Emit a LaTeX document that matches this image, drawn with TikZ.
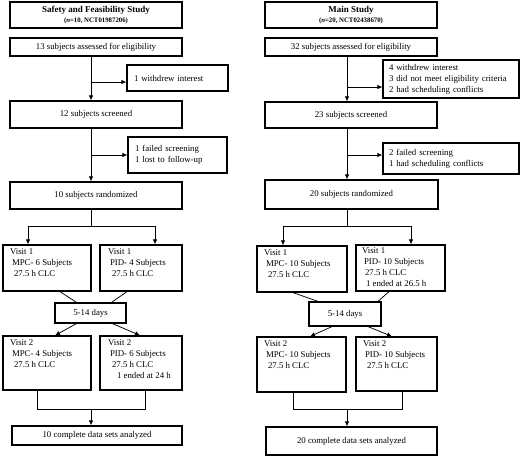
\documentclass[tikz,border=0pt]{standalone}
\usepackage{fontspec}
\setmainfont{Liberation Serif}
\usetikzlibrary{arrows.meta}

\begin{document}
\begin{tikzpicture}[x=1pt, y=-1pt,
        every node/.style={font=\fontsize{8.8}{11}\selectfont},
        box/.style={draw, line width=1.2pt, inner sep=0pt},
        sidebox/.style={box, align=left, inner xsep=7pt},
        link/.style={line width=0.75pt},
        arr/.style={link, -{Latex[length=5pt,width=4.5pt]}}]
        \useasboundingbox (0,0) rectangle (520,456);

        % === 左側: Safety and Feasibility Study ===
        \node[box, minimum width=172, minimum height=26, align=center] (Ltitle) at (96,15)
            {{\fontsize{9}{10}\selectfont\bfseries Safety and Feasibility Study}\\[-1pt]
             {\fontsize{6.8}{7}\selectfont\bfseries (\textit{n}=10, NCT01987206)}};
        \node[box, minimum width=172, minimum height=18] (Lassess) at (96,47) {13 subjects assessed for eligibility};
        \node[sidebox, text width=87, minimum height=26] (Lwd) at (177.5,78) {1 withdrew interest};
        \node[box, minimum width=172, minimum height=27] (Lscreen) at (96,114.5) {12 subjects screened};
        \node[sidebox, text width=85, minimum height=36] (Lfail) at (177.5,155) {1 failed screening\\1 lost to follow-up};
        \node[box, minimum width=172, minimum height=27] (Lrand) at (96,195.5) {10 subjects randomized};

        % Visit 1 / 2
        \node[box, minimum width=88, minimum height=46] (LV1a) at (47,268)
            {\parbox[c][39pt][t]{74pt}{Visit 1\\\hspace*{2pt}MPC- 6 Subjects\\\hspace*{4pt}27.5 h CLC}};
        \node[box, minimum width=82, minimum height=46] (LV1b) at (141,268)
            {\parbox[c][39pt][t]{66pt}{Visit 1\\\hspace*{2pt}PID- 4 Subjects\\\hspace*{4pt}27.5 h CLC}};
        \node[box, minimum width=71, minimum height=20] (Ldays) at (90.5,313) {5-14 days};
        \node[box, minimum width=88, minimum height=54] (LV2a) at (47,363)
            {\parbox[c][47pt][t]{74pt}{Visit 2\\\hspace*{2pt}MPC- 4 Subjects\\\hspace*{4pt}27.5 h CLC}};
        \node[box, minimum width=82, minimum height=54] (LV2b) at (141,363)
            {\parbox[c][47pt][t]{66pt}{Visit 2\\\hspace*{2pt}PID- 6 Subjects\\\hspace*{4pt}27.5 h CLC\\\hspace*{9pt}1 ended at 24 h}};
        \node[box, minimum width=170, minimum height=19] (Ldone) at (97,435.5) {10 complete data sets analyzed};

        % 左側の矢印
        \coordinate (Lax) at (91,0);
        \coordinate (Lbr1) at (91,82);
        \coordinate (Lbr2) at (91,155);
        \coordinate (LspA) at (28,226);
        \coordinate (LspB) at (155,226);
        \coordinate (LmA) at (37,409);
        \coordinate (LmB) at (145,409);
        \draw[arr] (Lassess.south -| Lax) -- (Lscreen.north -| Lax);
        \draw[arr] (Lbr1) -- (Lbr1 -| Lwd.west);
        \draw[arr] (Lscreen.south -| Lax) -- (Lrand.north -| Lax);
        \draw[arr] (Lbr2) -- (Lbr2 -| Lfail.west);
        \draw[link] (Lrand.south -| Lax) -- (Lax |- LspA);
        \draw[link] (LspA) -- (LspB);
        \draw[arr] (LspA) -- (LspA |- LV1a.north);
        \draw[arr] (LspB) -- (LspB |- LV1b.north);
        \draw[link] ([xshift=13pt]LV1a.south) -- ([xshift=-14pt]Ldays.north);
        \draw[link] ([xshift=-14pt]LV1b.south) -- ([xshift=21pt]Ldays.north);
        \draw[arr] ([xshift=-14pt]Ldays.south) -- ([xshift=8pt]LV2a.north);
        \draw[arr] ([xshift=22pt]Ldays.south) -- ([xshift=-1pt]LV2b.north);
        \draw[link] (LV2a.south -| LmA) -- (LmA) -- (LmB) -- (LV2b.south -| LmB);
        \draw[arr] (Lax |- LmA) -- (Lax |- Ldone.north);

        % === 右側: Main Study ===
        \node[box, minimum width=172, minimum height=26, align=center] (Rtitle) at (351,15)
            {{\fontsize{9}{10}\selectfont\bfseries Main Study}\\[-1pt]
             {\fontsize{6.8}{7}\selectfont\bfseries (\textit{n}=20, NCT02438670)}};
        \node[box, minimum width=172, minimum height=18] (Rassess) at (351,47) {32 subjects assessed for eligibility};
        \node[sidebox, inner xsep=6pt, text width=124, minimum height=38] (Rwd) at (451,79)
            {4 withdrew interest\\3 did not meet eligibility criteria\\2 had scheduling conflicts};
        \node[box, minimum width=172, minimum height=26] (Rscreen) at (351,115) {23 subjects screened};
        \node[sidebox, inner xsep=6pt, text width=124, minimum height=31] (Rfail) at (451,158.5)
            {2 failed screening\\1 had scheduling conflicts};
        \node[box, minimum width=173, minimum height=29] (Rrand) at (351.5,194.5) {20 subjects randomized};

        % Visit 1 / 2
        \node[box, minimum width=90, minimum height=46] (RV1a) at (302,269)
            {\parbox[c][39pt][t]{76pt}{Visit 1\\\hspace*{2pt}MPC- 10 Subjects\\\hspace*{4pt}27.5 h CLC}};
        \node[box, minimum width=89, minimum height=46] (RV1b) at (400.5,268)
            {\parbox[c][40pt][t]{77pt}{Visit 1\\\hspace*{2pt}PID- 10 Subjects\\\hspace*{3pt}27.5 h CLC\\\hspace*{4pt}1 ended at 26.5 h}};
        \node[box, minimum width=72, minimum height=24] (Rdays) at (345,314) {5-14 days};
        \node[box, minimum width=89, minimum height=55] (RV2a) at (301.5,364.5)
            {\parbox[c][48pt][t]{75pt}{Visit 2\\\hspace*{2pt}MPC- 10 Subjects\\\hspace*{4pt}27.5 h CLC}};
        \node[box, minimum width=81, minimum height=54] (RV2b) at (396.5,364)
            {\parbox[c][47pt][t]{67pt}{Visit 2\\\hspace*{2pt}PID- 10 Subjects\\\hspace*{4pt}27.5 h CLC}};
        \node[box, minimum width=171, minimum height=28] (Rdone) at (351.5,441) {20 complete data sets analyzed};

        % 右側の矢印
        \coordinate (Rax) at (347,0);
        \coordinate (Rbr1) at (347,87);
        \coordinate (Rbr2) at (347,155);
        \coordinate (RspA) at (283,226);
        \coordinate (RspB) at (411,226);
        \coordinate (RmA) at (293,409);
        \coordinate (RmB) at (402,409);
        \draw[arr] (Rassess.south -| Rax) -- (Rscreen.north -| Rax);
        \draw[arr] (Rbr1) -- (Rbr1 -| Rwd.west);
        \draw[arr] (Rscreen.south -| Rax) -- (Rrand.north -| Rax);
        \draw[arr] (Rbr2) -- (Rbr2 -| Rfail.west);
        \draw[link] (Rrand.south -| Rax) -- (Rax |- RspA);
        \draw[link] (RspA) -- (RspB);
        \draw[arr] (RspA) -- (RspA |- RV1a.north);
        \draw[arr] (RspB) -- (RspB |- RV1b.north);
        \draw[link] ([xshift=-9pt]RV1a.south) -- ([xshift=-27pt]Rdays.north);
        \draw[link] ([xshift=-11.5pt]RV1b.south) -- ([xshift=33pt]Rdays.north);
        \draw[arr] ([xshift=-13pt]Rdays.south) -- ([xshift=8.5pt]RV2a.north);
        \draw[arr] ([xshift=23pt]Rdays.south) -- ([xshift=-4.5pt]RV2b.north);
        \draw[link] (RV2a.south -| RmA) -- (RmA) -- (RmB) -- (RV2b.south -| RmB);
        \draw[arr] (Rax |- RmA) -- (Rax |- Rdone.north);
    \end{tikzpicture}
\end{document}
